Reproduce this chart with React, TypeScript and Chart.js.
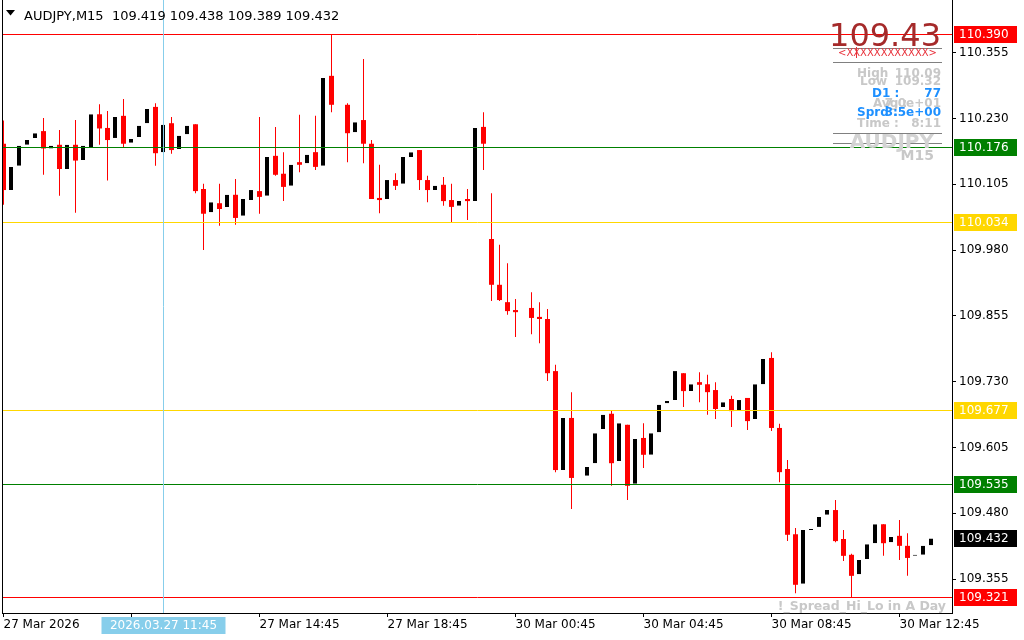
import React, { useEffect, useRef } from 'react';
import { Chart, registerables } from 'chart.js';

Chart.register(...registerables);

// ---- Data (AUDJPY M15, 27 Mar 06:45 .. 30 Mar 13:45) ----
const opens = [
  110.182, 110.094, 110.140, 110.180, 110.193, 110.206, 110.173, 110.180, 110.134, 110.180,
  110.151, 110.176, 110.238, 110.212, 110.193, 110.235, 110.184, 110.195, 110.221, 110.252,
  110.166, 110.221, 110.172, 110.200, 110.219, 110.096, 110.052, 110.069, 110.062, 110.085,
  110.045, 110.075, 110.092, 110.083, 110.159, 110.125, 110.102, 110.147, 110.145, 110.166,
  110.140, 110.311, 110.256, 110.256, 110.204, 110.227, 110.182, 110.079, 110.077, 110.113,
  110.106, 110.157, 110.170, 110.113, 110.094, 110.104, 110.075, 110.064, 110.077, 110.073,
  110.214, 110.001, 109.914, 109.881, 109.866, 109.864, 109.870, 109.853, 109.849, 109.750,
  109.562, 109.661, 109.549, 109.551, 109.575, 109.640, 109.669, 109.579, 109.648, 109.536,
  109.623, 109.591, 109.634, 109.689, 109.695, 109.746, 109.712, 109.729, 109.725, 109.714,
  109.682, 109.697, 109.674, 109.699, 109.659, 109.725, 109.775, 109.642, 109.564, 109.440,
  109.346, 109.448, 109.454, 109.477, 109.486, 109.431, 109.401, 109.364, 109.393, 109.423,
  109.459, 109.425, 109.437, 109.418, 109.399, 109.401, 109.419,
];
const highs = [
  110.226, 110.138, 110.178, 110.189, 110.202, 110.231, 110.178, 110.208, 110.180, 110.227,
  110.178, 110.238, 110.257, 110.244, 110.233, 110.267, 110.191, 110.216, 110.248, 110.259,
  110.218, 110.233, 110.197, 110.216, 110.219, 110.106, 110.071, 110.106, 110.085, 110.115,
  110.077, 110.094, 110.233, 110.157, 110.214, 110.166, 110.142, 110.237, 110.161, 110.235,
  110.307, 110.390, 110.262, 110.259, 110.223, 110.343, 110.189, 110.142, 110.113, 110.126,
  110.157, 110.166, 110.170, 110.121, 110.102, 110.119, 110.106, 110.073, 110.096, 110.212,
  110.242, 110.088, 109.990, 109.955, 109.887, 109.870, 109.900, 109.881, 109.868, 109.762,
  109.661, 109.710, 109.555, 109.568, 109.632, 109.667, 109.676, 109.651, 109.648, 109.621,
  109.651, 109.632, 109.686, 109.693, 109.750, 109.746, 109.725, 109.748, 109.743, 109.729,
  109.691, 109.703, 109.695, 109.699, 109.725, 109.773, 109.786, 109.650, 109.581, 109.452,
  109.448, 109.450, 109.473, 109.486, 109.505, 109.448, 109.403, 109.391, 109.421, 109.459,
  109.459, 109.435, 109.467, 109.442, 109.401, 109.418, 109.438,
];
const lows = [
  110.066, 110.094, 110.140, 110.180, 110.193, 110.123, 110.173, 110.083, 110.134, 110.051,
  110.151, 110.176, 110.180, 110.112, 110.193, 110.176, 110.184, 110.195, 110.221, 110.140,
  110.166, 110.163, 110.172, 110.200, 110.088, 109.980, 110.052, 110.026, 110.062, 110.028,
  110.045, 110.075, 110.049, 110.083, 110.121, 110.073, 110.102, 110.128, 110.145, 110.132,
  110.140, 110.242, 110.250, 110.147, 110.204, 110.145, 110.077, 110.050, 110.077, 110.094,
  110.106, 110.157, 110.094, 110.071, 110.094, 110.064, 110.033, 110.064, 110.037, 110.073,
  110.132, 109.883, 109.883, 109.857, 109.815, 109.858, 109.820, 109.803, 109.731, 109.558,
  109.562, 109.488, 109.543, 109.551, 109.575, 109.640, 109.532, 109.579, 109.505, 109.536,
  109.566, 109.591, 109.634, 109.689, 109.695, 109.682, 109.712, 109.691, 109.667, 109.659,
  109.682, 109.644, 109.674, 109.638, 109.659, 109.725, 109.636, 109.539, 109.427, 109.328,
  109.346, 109.448, 109.454, 109.477, 109.425, 109.389, 109.321, 109.364, 109.393, 109.423,
  109.399, 109.425, 109.391, 109.361, 109.399, 109.401, 109.389,
];
const closes = [
  110.094, 110.138, 110.178, 110.189, 110.202, 110.173, 110.178, 110.134, 110.180, 110.150,
  110.178, 110.238, 110.211, 110.189, 110.233, 110.182, 110.191, 110.216, 110.248, 110.164,
  110.218, 110.170, 110.197, 110.216, 110.092, 110.049, 110.071, 110.058, 110.085, 110.041,
  110.077, 110.094, 110.081, 110.157, 110.123, 110.100, 110.142, 110.142, 110.161, 110.138,
  110.307, 110.256, 110.256, 110.202, 110.223, 110.182, 110.077, 110.075, 110.113, 110.102,
  110.157, 110.166, 110.113, 110.094, 110.102, 110.073, 110.062, 110.073, 110.073, 110.212,
  110.182, 109.914, 109.885, 109.864, 109.862, 109.864, 109.851, 109.849, 109.746, 109.562,
  109.661, 109.547, 109.549, 109.568, 109.632, 109.667, 109.575, 109.651, 109.532, 109.621,
  109.591, 109.632, 109.686, 109.693, 109.750, 109.712, 109.725, 109.724, 109.710, 109.678,
  109.691, 109.674, 109.695, 109.655, 109.725, 109.773, 109.642, 109.558, 109.439, 109.344,
  109.448, 109.450, 109.473, 109.486, 109.427, 109.399, 109.361, 109.391, 109.421, 109.459,
  109.423, 109.435, 109.418, 109.395, 109.401, 109.418, 109.432,
];

const xTickIndex = [0, 16, 32, 48, 64, 80, 96, 112];
const xTickLabels = [
  '27 Mar 2026', '27 Mar 10:45', '27 Mar 14:45', '27 Mar 18:45',
  '30 Mar 00:45', '30 Mar 04:45', '30 Mar 08:45', '30 Mar 12:45',
];
const yTickValues = [109.355, 109.48, 109.605, 109.73, 109.855, 109.98, 110.105, 110.23, 110.355];

const levelValues = [110.39, 110.176, 110.034, 109.677, 109.535, 109.321];
const levelColors = ['#FF0000', '#008000', '#FFD700', '#FFD700', '#008000', '#FF0000'];
const lastPrice = 109.432;
const crosshairIndex = 20;
const crosshairLabel = '2026.03.27 11:45';
const titleText = 'AUDJPY,M15  109.419 109.438 109.389 109.432';

const FONT = 'DejaVu Sans';

const idx = opens.map((_, i) => i);
const bearIdx = idx.filter((i) => closes[i] < opens[i]);
const bullIdx = idx.filter((i) => closes[i] > opens[i]);

const overlayPlugin = {
  id: 'mtOverlay',
  afterDatasetsDraw(chart: any) {
    const { ctx, chartArea, scales } = chart;
    const ys = scales.y;
    const xs = scales.x;
    ctx.save();
    ctx.lineWidth = 1;
    levelValues.forEach((v, k) => {
      const y = Math.round(ys.getPixelForValue(v)) + 0.5;
      ctx.strokeStyle = levelColors[k];
      ctx.beginPath();
      ctx.moveTo(chartArea.left, y);
      ctx.lineTo(chartArea.right, y);
      ctx.stroke();
    });
    // crosshair vertical line
    const cx = Math.floor(xs.getPixelForValue(crosshairIndex)) + 0.5;
    ctx.strokeStyle = '#87CEEB';
    ctx.beginPath();
    ctx.moveTo(cx, 0);
    ctx.lineTo(cx, chartArea.bottom);
    ctx.stroke();
    // left frame
    ctx.strokeStyle = '#000';
    ctx.beginPath();
    ctx.moveTo(2.5, 0);
    ctx.lineTo(2.5, chartArea.bottom + 1);
    ctx.stroke();
    ctx.restore();
  },
  afterDraw(chart: any) {
    const { ctx, chartArea, scales } = chart;
    const ys = scales.y;
    const xs = scales.x;
    ctx.save();
    // price labels on the right axis
    ctx.font = `12px ${FONT}`;
    ctx.textBaseline = 'middle';
    ctx.textAlign = 'left';
    const drawLabel = (v: number, bg: string) => {
      const y = Math.round(ys.getPixelForValue(v));
      ctx.fillStyle = bg;
      ctx.fillRect(chartArea.right + 2, y - 8, 63, 17);
      ctx.fillStyle = '#FFFFFF';
      ctx.fillText(v.toFixed(3), chartArea.right + 7, y + 1);
    };
    levelValues.forEach((v, k) => drawLabel(v, levelColors[k]));
    drawLabel(lastPrice, '#000000');

    // crosshair time label
    const cx = Math.floor(xs.getPixelForValue(crosshairIndex)) + 0.5;
    ctx.fillStyle = '#87CEEB';
    ctx.fillRect(cx - 62, chartArea.bottom + 4, 124, 17);
    ctx.fillStyle = '#FFFFFF';
    ctx.textAlign = 'center';
    ctx.fillText(crosshairLabel, cx, chartArea.bottom + 13);

    // title
    ctx.fillStyle = '#000';
    ctx.beginPath();
    ctx.moveTo(6, 10);
    ctx.lineTo(15, 10);
    ctx.lineTo(10.5, 15.5);
    ctx.closePath();
    ctx.fill();
    ctx.font = `13px ${FONT}`;
    ctx.textAlign = 'left';
    ctx.textBaseline = 'alphabetic';
    ctx.fillText(titleText, 24, 19.5);

    // info panel
    ctx.textAlign = 'right';
    ctx.font = `32px ${FONT}`;
    ctx.fillStyle = '#A52A2A';
    ctx.fillText('109.43', 941, 46);

    ctx.strokeStyle = '#808080';
    ctx.lineWidth = 1;
    [48.5, 62.5, 133.5, 143.5].forEach((y) => {
      ctx.beginPath();
      ctx.moveTo(833, y);
      ctx.lineTo(942, y);
      ctx.stroke();
    });

    ctx.textAlign = 'left';
    ctx.font = `10px ${FONT}`;
    ctx.fillStyle = '#E8303A';
    ctx.fillText('<XXXXXXXXXXXX>', 838, 56);
    ctx.strokeStyle = '#E8303A';
    ctx.beginPath();
    ctx.moveTo(856.5, 47);
    ctx.lineTo(856.5, 58);
    ctx.stroke();

    const row = (left: string, lx: number, right: string, y: number, color: string) => {
      ctx.fillStyle = color;
      ctx.font = `bold 12px ${FONT}`;
      ctx.textAlign = 'left';
      ctx.fillText(left, lx, y);
      ctx.textAlign = 'right';
      ctx.fillText(right, 941, y);
    };
    const gray = '#C8C8C8';
    const blue = '#1E90FF';
    row('High', 857, '110.09', 76.5, gray);
    row('Low', 860, '109.32', 84.5, gray);
    row('Avg :', 873, '7.0e+01', 106.5, gray);
    row('Time :', 857, '8:11', 126.5, gray);
    row('D1 :', 872, '77', 96.5, blue);
    row('Sprd :', 857, '3.5e+00', 116, blue);

    ctx.textAlign = 'right';
    ctx.fillStyle = '#D3D3D3';
    ctx.font = `bold 20px ${FONT}`;
    ctx.fillText('AUDJPY', 934, 148);
    ctx.fillStyle = gray;
    ctx.font = `bold 14px ${FONT}`;
    ctx.fillText('M15', 934, 159.5);

    ctx.font = `bold 12.5px ${FONT}`;
    ctx.fillStyle = gray;
    ctx.fillText('!_Spread_Hi_Lo in A Day', 946, 610);
    ctx.restore();
  },
};

export default function App() {
  const ref = useRef<HTMLCanvasElement>(null);
  useEffect(() => {
    document.body.style.margin = '0';
    const canvas = ref.current!;
    const chart = new Chart(canvas, {
      type: 'bar',
      data: {
        datasets: [
          {
            label: 'wick',
            data: bearIdx.map((i) => ({ x: i, y: [lows[i], highs[i]] })) as any,
            backgroundColor: '#FF0000',
            barThickness: 1,
            maxBarThickness: 1,
            grouped: false,
            inflateAmount: 0,
            borderWidth: 0,
            borderSkipped: false,
          } as any,
          {
            label: 'bear',
            data: bearIdx.map((i) => ({ x: i, y: [opens[i], closes[i]] })) as any,
            backgroundColor: '#FF0000',
            barThickness: 5,
            maxBarThickness: 5,
            grouped: false,
            inflateAmount: 0,
            borderWidth: 0,
            borderSkipped: false,
          } as any,
          {
            label: 'bull',
            data: bullIdx.map((i) => ({ x: i, y: [opens[i], closes[i]] })) as any,
            backgroundColor: '#000000',
            borderColor: '#FFFFFF',
            borderWidth: { left: 0, right: 1, top: 0, bottom: 0 },
            barThickness: 5,
            maxBarThickness: 5,
            grouped: false,
            inflateAmount: 0,
            borderSkipped: false,
          } as any,
        ],
      },
      options: {
        responsive: false,
        animation: false,
        events: [],
        devicePixelRatio: 1,
        layout: { padding: { left: 3, top: 0, right: 0, bottom: 0 } },
        plugins: { legend: { display: false }, tooltip: { enabled: false }, title: { display: false } },
        scales: {
          x: {
            type: 'linear',
            position: 'bottom',
            offset: false,
            min: -0.0625,
            max: 118.5625,
            afterBuildTicks: (s: any) => {
              s.ticks = xTickIndex.map((v) => ({ value: v }));
            },
            afterFit: (s: any) => {
              s.height = 27;
              s.paddingLeft = 0;
              s.paddingRight = 0;
            },
            ticks: {
              autoSkip: false,
              maxRotation: 0,
              minRotation: 0,
              align: 'start',
              padding: 1,
              color: '#000',
              font: { family: FONT, size: 12 },
              callback: (_v: any, i: number) => xTickLabels[i],
            },
            grid: { offset: false, drawOnChartArea: false, drawTicks: true, tickLength: 4, tickColor: '#000' },
            border: { display: true, color: '#000', width: 1 },
          } as any,
          y: {
            type: 'linear',
            position: 'right',
            min: 109.2904,
            max: 110.4551,
            afterBuildTicks: (s: any) => {
              s.ticks = yTickValues.map((v) => ({ value: v }));
            },
            afterFit: (s: any) => {
              s.width = 72;
              s.paddingTop = 0;
              s.paddingBottom = 0;
            },
            ticks: {
              autoSkip: false,
              padding: 3,
              color: '#000',
              font: { family: FONT, size: 12 },
              callback: (v: any) => Number(v).toFixed(3),
            },
            grid: { drawOnChartArea: false, drawTicks: true, tickLength: 4, tickColor: '#000' },
            border: { display: true, color: '#000', width: 1 },
          } as any,
        },
      },
      plugins: [overlayPlugin],
    } as any);
    return () => chart.destroy();
  }, []);
  return (
    <div style={{ width: 1024, height: 640, background: '#fff' }}>
      <canvas ref={ref} width={1024} height={640} style={{ display: 'block' }} />
    </div>
  );
}
